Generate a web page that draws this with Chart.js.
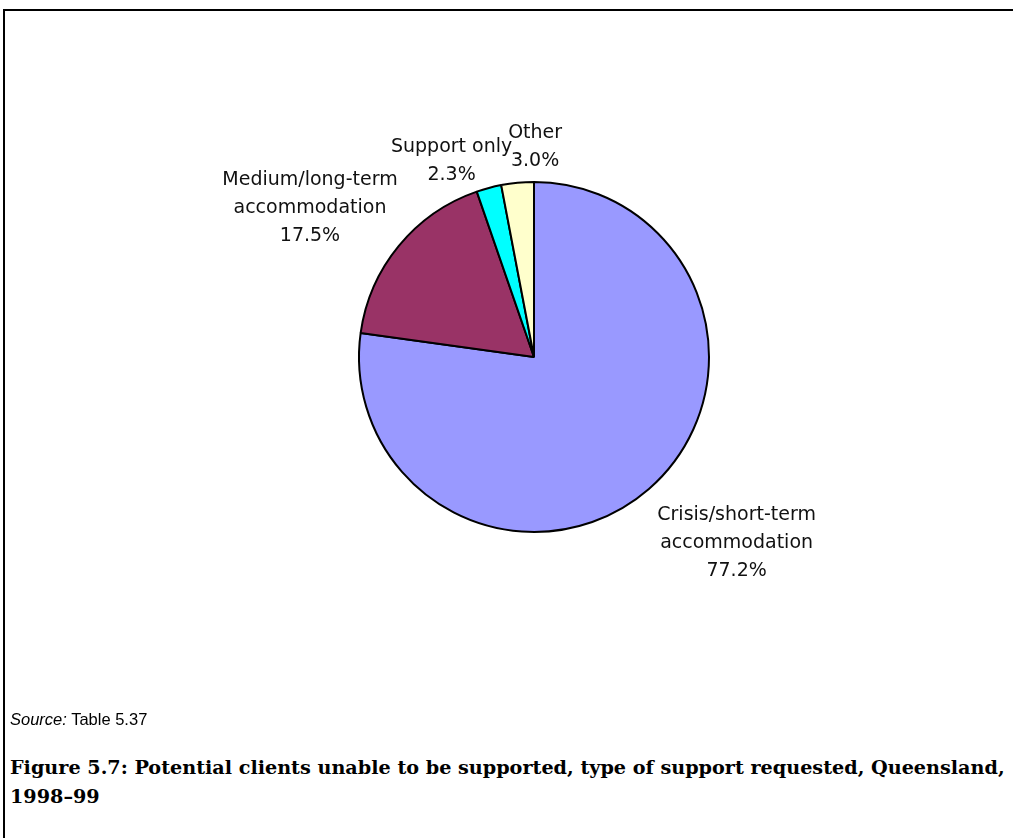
<!DOCTYPE html>
<html>
<head>
<meta charset="utf-8">
<script src="https://cdn.jsdelivr.net/npm/chart.js@4.4.1/dist/chart.umd.min.js"></script>
<style>
  html, body { margin: 0; padding: 0; background: #fff; }
  body { width: 1013px; height: 838px; position: relative; overflow: hidden; }
  #frame { position: absolute; left: 3px; top: 9px; width: 1020px; height: 840px;
           border-top: 2px solid #000; border-left: 2px solid #000; }
  #wrap { position: absolute; left: 0; top: 0; width: 1013px; height: 714px; }
  #source { position: absolute; left: 10px; top: 710px; font-family: "Liberation Sans", Arial, sans-serif;
            font-size: 16.5px; color: #000; white-space: nowrap; }
  #caption { position: absolute; left: 10px; top: 753px; font-family: "DejaVu Serif", serif;
             font-weight: bold; font-size: 19.2px; line-height: 29px; color: #000; white-space: nowrap; }
</style>
</head>
<body>
<div id="frame"></div>
<div id="wrap"><canvas id="c" width="1013" height="714"></canvas></div>
<div id="source"><i>Source:</i> Table 5.37</div>
<div id="caption">Figure 5.7: Potential clients unable to be supported, type of support requested, Queensland,<br>1998–99</div>
<script>
const categories = ["Crisis/short-term accommodation", "Medium/long-term accommodation", "Support only", "Other"];
const labelLines = [["Crisis/short-term", "accommodation"], ["Medium/long-term", "accommodation"], ["Support only"], ["Other"]];
const values = [77.2, 17.5, 2.3, 3.0];
const valueLabels = ["77.2%", "17.5%", "2.3%", "3.0%"];

const colors = ["#9999FF", "#993366", "#00FFFF", "#FFFFCC"];
// nudges applied to the label anchor (mid-angle at 1.45 R)
const labelNudge = [[36, -5], [-28, 12], [-17, 49], [25, 43]];

const labelPlugin = {
  id: 'sliceLabels',
  afterDatasetsDraw(chart) {
    const ctx = chart.ctx;
    const meta = chart.getDatasetMeta(0);
    ctx.save();
    ctx.font = '19px "DejaVu Sans", sans-serif';
    ctx.fillStyle = '#111';
    ctx.textAlign = 'center';
    ctx.textBaseline = 'middle';
    const lh = 28;
    meta.data.forEach((arc, i) => {
      const p = arc.getProps(['x', 'y', 'startAngle', 'endAngle', 'outerRadius'], true);
      const mid = (p.startAngle + p.endAngle) / 2;
      const r = p.outerRadius * 1.45;
      const cx = p.x + Math.cos(mid) * r + labelNudge[i][0];
      const cy = p.y + Math.sin(mid) * r + labelNudge[i][1];
      const lines = labelLines[i].concat([valueLabels[i]]);
      const top = cy - (lines.length - 1) * lh / 2;
      lines.forEach((t, k) => ctx.fillText(t, cx, top + k * lh));
    });
    ctx.restore();
  }
};

new Chart(document.getElementById('c'), {
  type: 'pie',
  data: {
    labels: categories,
    datasets: [{
      data: values,
      backgroundColor: colors,
      borderColor: '#000',
      borderWidth: 2,
      hoverOffset: 0
    }]
  },
  options: {
    responsive: false,
    animation: false,
    radius: 175,
    layout: { padding: { left: 55 } },
    plugins: { legend: { display: false }, tooltip: { enabled: false } },
    events: []
  },
  plugins: [labelPlugin]
});
</script>
</body>
</html>
